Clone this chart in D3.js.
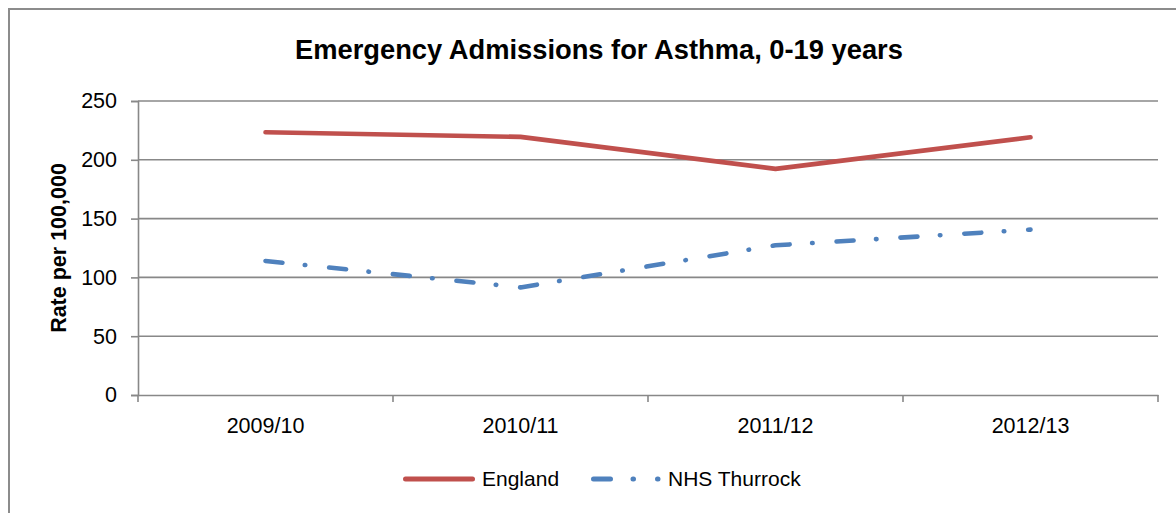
<!DOCTYPE html>
<html>
<head>
<meta charset="utf-8">
<script src="https://cdn.jsdelivr.net/npm/d3@7"></script>
<style>
  html, body { margin: 0; padding: 0; background: #fff; }
  svg { display: block; }
  text { font-family: "Liberation Sans", Arial, sans-serif; fill: #000; }
</style>
</head>
<body>
<svg id="chart" width="1176" height="513"></svg>
<script>
const categories = ["2009/10", "2010/11", "2011/12", "2012/13"];
const england = [223.4, 219.5, 192.3, 219.1];
const thurrock = [114, 91.5, 127.3, 140.6];
const yTicks = [0, 50, 100, 150, 200, 250];
const seriesNames = ["England", "NHS Thurrock"];

(function () {
const svg = d3.select("#chart");
const W = 1176, H = 513;
const pLeft = 138, pRight = 1158, pTop = 101, pBottom = 395;

// outer chart border (right/bottom edges fall outside the picture)
svg.append("rect")
  .attr("x", 9).attr("y", 9)
  .attr("width", W + 20).attr("height", H + 20)
  .attr("fill", "#fff")
  .attr("stroke", "#8c8c8c").attr("stroke-width", 2);

const x = d3.scaleBand().domain(categories).range([pLeft, pRight]).padding(0);
const y = d3.scaleLinear().domain([0, 250]).range([pBottom, pTop]);
const cx = c => x(c) + x.bandwidth() / 2;

// gridlines
svg.append("g").selectAll("line")
  .data(yTicks.filter(v => v > 0))
  .join("line")
  .attr("x1", pLeft).attr("x2", pRight)
  .attr("y1", d => y(d)).attr("y2", d => y(d))
  .attr("stroke", "#888").attr("stroke-width", 1.6);

// y axis
const yAxis = svg.append("g")
  .attr("transform", `translate(${pLeft},0)`)
  .call(d3.axisLeft(y).tickValues(yTicks).tickSize(7).tickPadding(14));
yAxis.select(".domain").attr("stroke", "#888").attr("stroke-width", 1.6);
yAxis.selectAll(".tick line").attr("stroke", "#888").attr("stroke-width", 1.6);
yAxis.selectAll(".tick text")
  .style("font-family", '"Liberation Sans", Arial, sans-serif')
  .style("font-size", "21.5px").attr("fill", "#000");

// x axis labels
const xAxis = svg.append("g")
  .attr("transform", `translate(0,${pBottom})`)
  .call(d3.axisBottom(x).tickSize(0).tickPadding(23));
xAxis.select(".domain").attr("stroke", "#888").attr("stroke-width", 1.6);
xAxis.selectAll(".tick text")
  .style("font-family", '"Liberation Sans", Arial, sans-serif')
  .style("font-size", "21.5px").attr("fill", "#000");

// x boundary ticks
const bounds = categories.map(c => x(c)).concat([x.range()[1]]);
svg.append("g").selectAll("line")
  .data(bounds)
  .join("line")
  .attr("x1", d => d).attr("x2", d => d)
  .attr("y1", pBottom).attr("y2", pBottom + 7)
  .attr("stroke", "#888").attr("stroke-width", 1.6);

// lines
const line = d3.line()
  .x((d, i) => cx(categories[i]))
  .y(d => y(d));

svg.append("path")
  .datum(england)
  .attr("d", line)
  .attr("fill", "none")
  .attr("stroke", "#C0504D")
  .attr("stroke-width", 4.6)
  .attr("stroke-linecap", "round")
  .attr("stroke-linejoin", "round");

const dash = "17,22.5,0.5,24";
svg.append("path")
  .datum(thurrock)
  .attr("d", line)
  .attr("fill", "none")
  .attr("stroke", "#4F81BD")
  .attr("stroke-width", 4.6)
  .attr("stroke-linecap", "round")
  .attr("stroke-linejoin", "round")
  .attr("stroke-dasharray", dash);

// title
svg.append("text")
  .attr("x", 599).attr("y", 59)
  .attr("text-anchor", "middle")
  .style("font-size", "27.3px").style("font-weight", "bold")
  .text("Emergency Admissions for Asthma, 0-19 years");

// y-axis title
svg.append("text")
  .attr("transform", "translate(66,248) rotate(-90)")
  .attr("text-anchor", "middle")
  .style("font-size", "21.5px").style("font-weight", "bold")
  .text("Rate per 100,000");

// legend
const legendY = 479;
const lg = svg.append("g");
lg.append("line")
  .attr("x1", 405.5).attr("x2", 472.5)
  .attr("y1", legendY).attr("y2", legendY)
  .attr("stroke", "#C0504D").attr("stroke-width", 5)
  .attr("stroke-linecap", "round");
lg.append("text")
  .attr("x", 482).attr("y", 486)
  .style("font-size", "21px")
  .text(seriesNames[0]);
lg.append("line")
  .attr("x1", 593.5).attr("x2", 658)
  .attr("y1", legendY).attr("y2", legendY)
  .attr("stroke", "#4F81BD").attr("stroke-width", 5)
  .attr("stroke-linecap", "round")
  .attr("stroke-dasharray", dash);
lg.append("text")
  .attr("x", 668).attr("y", 486)
  .style("font-size", "21px")
  .text(seriesNames[1]);
})();
</script>
</body>
</html>
